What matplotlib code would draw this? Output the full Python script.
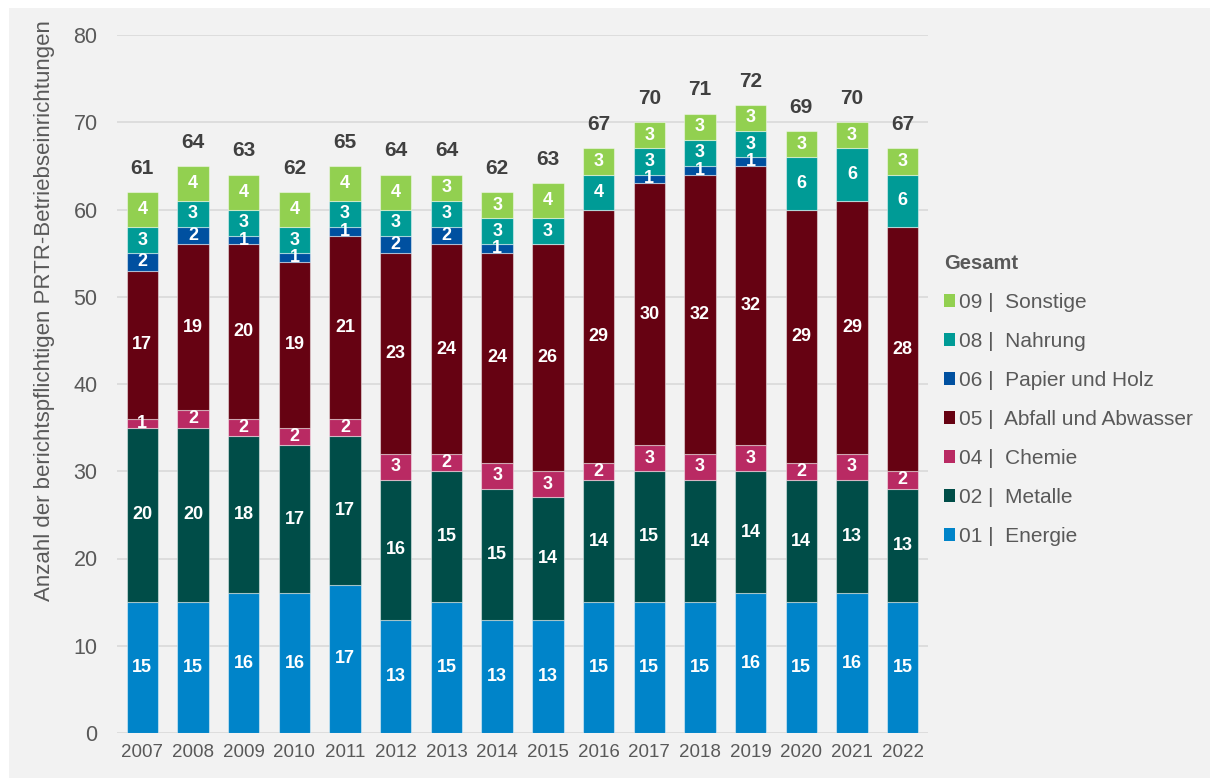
import matplotlib.pyplot as plt
import matplotlib.patches as mpatches
import numpy as np

plt.rcParams['font.family'] = ['Liberation Sans', 'DejaVu Sans']

# --- Data ---
years = ['2007', '2008', '2009', '2010', '2011', '2012', '2013', '2014',
         '2015', '2016', '2017', '2018', '2019', '2020', '2021', '2022']

energie  = [15, 15, 16, 16, 17, 13, 15, 13, 13, 15, 15, 15, 16, 15, 16, 15]
metalle  = [20, 20, 18, 17, 17, 16, 15, 15, 14, 14, 15, 14, 14, 14, 13, 13]
chemie   = [1, 2, 2, 2, 2, 3, 2, 3, 3, 2, 3, 3, 3, 2, 3, 2]
abfall   = [17, 19, 20, 19, 21, 23, 24, 24, 26, 29, 30, 32, 32, 29, 29, 28]
papier   = [2, 2, 1, 1, 1, 2, 2, 1, 0, 0, 1, 1, 1, 0, 0, 0]
nahrung  = [3, 3, 3, 3, 3, 3, 3, 3, 3, 4, 3, 3, 3, 6, 6, 6]
sonstige = [4, 4, 4, 4, 4, 4, 3, 3, 4, 3, 3, 3, 3, 3, 3, 3]
gesamt   = [61, 64, 63, 62, 65, 64, 64, 62, 63, 67, 70, 71, 72, 69, 70, 67]

series = [
    ('01 |  Energie',              energie,  '#0084C9'),
    ('02 |  Metalle',              metalle,  '#004D48'),
    ('04 |  Chemie',               chemie,   '#B92A63'),
    ('05 |  Abfall und Abwasser',  abfall,   '#660212'),
    ('06 |  Papier und Holz',      papier,   '#0050A0'),
    ('08 |  Nahrung',              nahrung,  '#009B96'),
    ('09 |  Sonstige',             sonstige, '#92D050'),
]

text_grey = '#595959'

# --- Figure ---
fig = plt.figure(figsize=(12.1, 7.78), dpi=100)
fig.patch.set_facecolor('white')
fig.patches.append(mpatches.Rectangle((9 / 1210, 0), 1, 1 - 8 / 778,
                                      transform=fig.transFigure,
                                      facecolor='#F2F2F2', edgecolor='none',
                                      zorder=-10))

ax = fig.add_axes([117 / 1210, 1 - 733 / 778, (928 - 117) / 1210, (733 - 35) / 778])
ax.set_facecolor('none')

x = np.arange(len(years))
bottom = np.zeros(len(years))
handles = []
for label, vals, color in series:
    vals = np.array(vals, dtype=float)
    bars = ax.bar(x, vals, width=0.62, bottom=bottom, color=color,
                  edgecolor=(1, 1, 1, 0.45), linewidth=0.8, zorder=3, label=label)
    handles.append(bars)
    for xi, v, b in zip(x, vals, bottom):
        if v > 0:
            ax.text(xi, b + v / 2, f'{int(v)}', ha='center', va='center',
                    color='white', fontsize=13, fontweight='bold', zorder=5)
    bottom += vals

# Totals above bars
for xi, top, tot in zip(x, bottom, gesamt):
    ax.annotate(f'{tot}', xy=(xi, top), xytext=(0, 17), textcoords='offset points',
                ha='center', va='center', fontsize=15, fontweight='bold',
                color='#404040', zorder=5)

ax.set_xlim(-0.5, len(years) - 0.5)
ax.set_ylim(0, 80)
ax.set_yticks(range(0, 81, 10))
ax.set_xticks(x)
ax.set_xticklabels(years)
ax.yaxis.grid(True, color='#D9D9D9', linewidth=1.2, zorder=0)
ax.set_axisbelow(True)
for s in ax.spines.values():
    s.set_visible(False)
ax.tick_params(axis='y', length=0, pad=14, labelsize=15.5, labelcolor=text_grey)
ax.tick_params(axis='x', length=0, pad=8, labelsize=13.5, labelcolor=text_grey)

fig.text(45 / 1210, 1 - 311 / 778,
         'Anzahl der berichtspflichtigen PRTR-Betriebseinrichtungen',
         rotation=90, ha='center', va='center', fontsize=16, color=text_grey)

# Legend
leg = ax.legend(handles[::-1], [s[0] for s in series][::-1],
                title='Gesamt', loc='upper left',
                bbox_to_anchor=(925 / 1210, 1 - 235 / 778),
                bbox_transform=fig.transFigure, frameon=False,
                fontsize=15, handlelength=0.55, handleheight=0.55,
                handletextpad=0.2, labelspacing=0.96,
                title_fontproperties={'weight': 'bold', 'size': 14.5})
leg._legend_box.align = 'left'
leg.get_title().set_color(text_grey)
for t in leg.get_texts():
    t.set_color(text_grey)
for h in leg.legend_handles:
    h.set_edgecolor('none')

fig.savefig('out.png', dpi=100, facecolor='white')
